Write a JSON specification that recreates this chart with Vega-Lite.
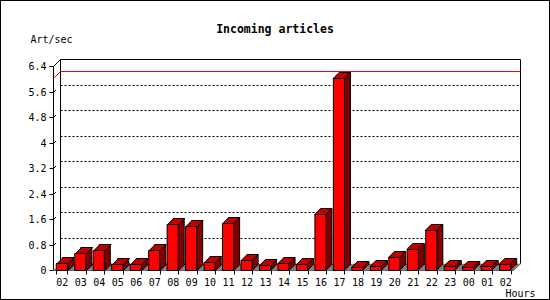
{
  "$schema": "https://vega.github.io/schema/vega-lite/v6.json",
  "width": 550,
  "height": 300,
  "autosize": "none",
  "padding": 0,
  "background": "white",
  "config": {
    "view": {"stroke": "black", "strokeWidth": 2},
    "font": "DejaVu Sans Mono",
    "axis": {"labelOverlap": false, "labelFlush": false, "labelBound": false}
  },
  "title": {
    "text": "Incoming articles",
    "anchor": "middle",
    "frame": "group",
    "font": "DejaVu Sans Mono",
    "fontSize": 11.5,
    "fontWeight": "bold",
    "color": "black",
    "baseline": "middle",
    "offset": -41
  },
  "datasets": {
    "rates": [
      {"slot": "02", "value": 0.21},
      {"slot": "03", "value": 0.53},
      {"slot": "04", "value": 0.62},
      {"slot": "05", "value": 0.18},
      {"slot": "06", "value": 0.18},
      {"slot": "07", "value": 0.62},
      {"slot": "08", "value": 1.44},
      {"slot": "09", "value": 1.38},
      {"slot": "10", "value": 0.24},
      {"slot": "11", "value": 1.47},
      {"slot": "12", "value": 0.30},
      {"slot": "13", "value": 0.15},
      {"slot": "14", "value": 0.21},
      {"slot": "15", "value": 0.18},
      {"slot": "16", "value": 1.75},
      {"slot": "17", "value": 6.01},
      {"slot": "18", "value": 0.08},
      {"slot": "19", "value": 0.12},
      {"slot": "20", "value": 0.40},
      {"slot": "21", "value": 0.65},
      {"slot": "22", "value": 1.25},
      {"slot": "23", "value": 0.12},
      {"slot": "00", "value": 0.08},
      {"slot": "01", "value": 0.12},
      {"slot": "02b", "value": 0.18}
    ],
    "grid": [
      {"v": 0.8}, {"v": 1.6}, {"v": 2.4}, {"v": 3.2}, {"v": 4}, {"v": 4.8}, {"v": 5.6}
    ]
  },
  "encoding": {
    "y": {
      "type": "quantitative",
      "scale": {"domain": [0, 6.4], "range": [270, 66], "nice": false, "round": true},
      "axis": {
        "orient": "left", "offset": -53, "values": [0, 0.8, 1.6, 2.4, 3.2, 4, 4.8, 5.6, 6.4],
        "format": ".1~f",
        "grid": false, "tickSize": 4, "tickColor": "black", "domainColor": "black", "labelPadding": 3,
        "labelFont": "DejaVu Sans Mono", "labelFontSize": 10, "labelColor": "black", "labelFlush": false, "labelOverlap": false,
        "title": "Art/sec", "titleAngle": 0, "titleFont": "DejaVu Sans Mono", "titleFontSize": 10, "titleFontWeight": "normal",
        "titleColor": "black", "titleX": -23, "titleY": 39, "titleAlign": "left", "titleBaseline": "middle"
      }
    }
  },
  "layer": [
    {
      "data": {"name": "grid"},
      "mark": {"type": "rule", "color": "black", "strokeWidth": 1, "strokeDash": [2, 2], "xOffset": 7, "x2Offset": 7, "yOffset": -6.5, "y2Offset": -6.5},
      "encoding": {
        "x": {"datum": 0, "type": "quantitative", "scale": {"domain": [0, 1], "range": [53.5, 513.5]}, "axis": null},
        "x2": {"datum": 1},
        "y": {"field": "v"}
      }
    },
    {
      "data": {"name": "grid"},
      "mark": {"type": "rule", "color": "black", "strokeWidth": 1, "yOffset": 0.5, "x2Offset": 2.5, "y2Offset": -2},
      "encoding": {
        "x": {"datum": 0, "type": "quantitative", "scale": {"domain": [0, 1], "range": [53.5, 513.5]}, "axis": null},
        "x2": {"datum": 0},
        "y": {"field": "v"},
        "y2": {"field": "v"}
      }
    },
    {
      "data": {"values": [{"w": 6.4}]},
      "mark": {"type": "rule", "color": "black", "strokeWidth": 1, "xOffset": 7, "x2Offset": 7, "yOffset": -6.5, "y2Offset": -6.5},
      "encoding": {
        "x": {"datum": 0, "type": "quantitative", "scale": {"domain": [0, 1], "range": [53.5, 513.5]}, "axis": null},
        "x2": {"datum": 1},
        "y": {"field": "w"}
      }
    },
    {
      "data": {"values": [{"e": 0, "lo": 0, "hi": 6.4}, {"e": 1, "lo": 0, "hi": 6.4}]},
      "mark": {"type": "rule", "color": "black", "strokeWidth": 1, "xOffset": 7, "x2Offset": 7, "yOffset": -6.5, "y2Offset": -6.5},
      "encoding": {
        "x": {"field": "e", "type": "quantitative", "scale": {"domain": [0, 1], "range": [53.5, 513.5]}, "axis": null},
        "y": {"field": "lo"},
        "y2": {"field": "hi"}
      }
    },
    {
      "data": {"values": [{"e": 0, "w": 6.4}, {"e": 1, "w": 0}]},
      "mark": {"type": "rule", "color": "black", "strokeWidth": 1, "yOffset": 0.5, "x2Offset": 7, "y2Offset": -6.5},
      "encoding": {
        "x": {"field": "e", "type": "quantitative", "scale": {"domain": [0, 1], "range": [53.5, 513.5]}, "axis": null},
        "x2": {"field": "e"},
        "y": {"field": "w"},
        "y2": {"field": "w"}
      }
    },
    {
      "data": {"name": "rates"},
      "transform": [{"aggregate": [{"op": "max", "field": "value", "as": "mx"}]}],
      "mark": {"type": "rule", "stroke": "#ff0000", "color": "#ff0000", "strokeWidth": 1, "xOffset": 7, "x2Offset": 7, "yOffset": -6.5, "y2Offset": -6.5},
      "encoding": {
        "x": {"datum": 0, "type": "quantitative", "scale": {"domain": [0, 1], "range": [53.5, 513.5]}, "axis": null},
        "x2": {"datum": 1},
        "y": {"field": "mx"}
      }
    },
    {
      "data": {"name": "rates"},
      "transform": [{"aggregate": [{"op": "max", "field": "value", "as": "mx"}]}],
      "mark": {"type": "rule", "stroke": "#ff0000", "color": "#ff0000", "strokeWidth": 1, "yOffset": 0.5, "x2Offset": 7, "y2Offset": -6.5},
      "encoding": {
        "x": {"datum": 0, "type": "quantitative", "scale": {"domain": [0, 1], "range": [53.5, 513.5]}, "axis": null},
        "x2": {"datum": 0},
        "y": {"field": "mx"},
        "y2": {"field": "mx"}
      }
    },
    {
      "data": {"name": "rates"},
      "transform": [{"calculate": "0", "as": "base"}],
      "mark": {"type": "point", "shape": "M-0.93,0L0.93,0L1.63,-0.65L-0.23,-0.65Z", "size": 400, "filled": true, "fill": "#808080", "stroke": "#808080", "strokeWidth": 0.5, "opacity": 1, "yOffset": 0.5},
      "encoding": {
        "x": {"field": "slot", "type": "nominal", "sort": null, "scale": {"range": [53.5, 513.5], "paddingInner": 0.4, "paddingOuter": 0.15}, "axis": null},
        "y": {"field": "base"}
      }
    },
    {
      "data": {"name": "rates"},
      "mark": {"type": "bar", "fill": "#800000", "stroke": "black", "strokeWidth": 1, "xOffset": 6, "x2Offset": 6, "yOffset": -5.5, "y2Offset": -5.5},
      "encoding": {
        "x": {"field": "slot", "type": "nominal", "sort": null, "scale": {"range": [53.5, 513.5], "paddingInner": 0.4, "paddingOuter": 0.15}, "axis": null},
        "y": {"field": "value"}
      }
    },
    {
      "data": {"name": "rates"},
      "transform": [{"calculate": "0", "as": "base"}],
      "mark": {"type": "point", "shape": "M1.154,-0.7L1.154,-0.6L0.554,0L0.554,-0.7", "size": 400, "filled": true, "fill": "#800000", "stroke": "black", "strokeWidth": 1, "opacity": 1, "yOffset": 0.5},
      "encoding": {
        "x": {"field": "slot", "type": "nominal", "sort": null, "scale": {"range": [53.5, 513.5], "paddingInner": 0.4, "paddingOuter": 0.15}, "axis": null},
        "y": {"field": "base"}
      }
    },
    {
      "data": {"name": "rates"},
      "mark": {"type": "bar", "fill": "#ff0000", "stroke": "black", "strokeWidth": 1, "yOffset": 0.5, "y2Offset": 0.5},
      "encoding": {
        "x": {
          "field": "slot", "type": "nominal", "sort": null,
          "scale": {"range": [53.5, 513.5], "paddingInner": 0.4, "paddingOuter": 0.15},
          "axis": {
            "orient": "bottom", "offset": -30, "tickBand": "extent", "tickSize": 4, "tickColor": "black",
            "domainColor": "black", "labelAngle": 0, "labelPadding": 3, "labelFont": "DejaVu Sans Mono", "labelFontSize": 10,
            "labelColor": "black", "labelExpr": "substring(datum.label, 0, 2)", "labelOverlap": false,
            "title": "Hours", "titleFont": "DejaVu Sans Mono", "titleFontSize": 10, "titleFontWeight": "normal", "titleColor": "black",
            "titleX": 505, "titleY": 23, "titleAlign": "left", "titleBaseline": "middle"
          }
        },
        "y": {"field": "value"}
      }
    },
    {
      "data": {"name": "rates"},
      "mark": {"type": "point", "shape": "M-0.554,0L0.554,0L1.154,-0.6L0.046,-0.6Z", "size": 400, "filled": true, "fill": "#c00000", "stroke": "black", "strokeWidth": 1, "opacity": 1, "yOffset": 0.5},
      "encoding": {
        "x": {"field": "slot", "type": "nominal", "sort": null, "scale": {"range": [53.5, 513.5], "paddingInner": 0.4, "paddingOuter": 0.15}, "axis": null},
        "y": {"field": "value"}
      }
    }
  ],
  "resolve": {"scale": {"x": "independent"}, "axis": {"x": "independent"}}
}
